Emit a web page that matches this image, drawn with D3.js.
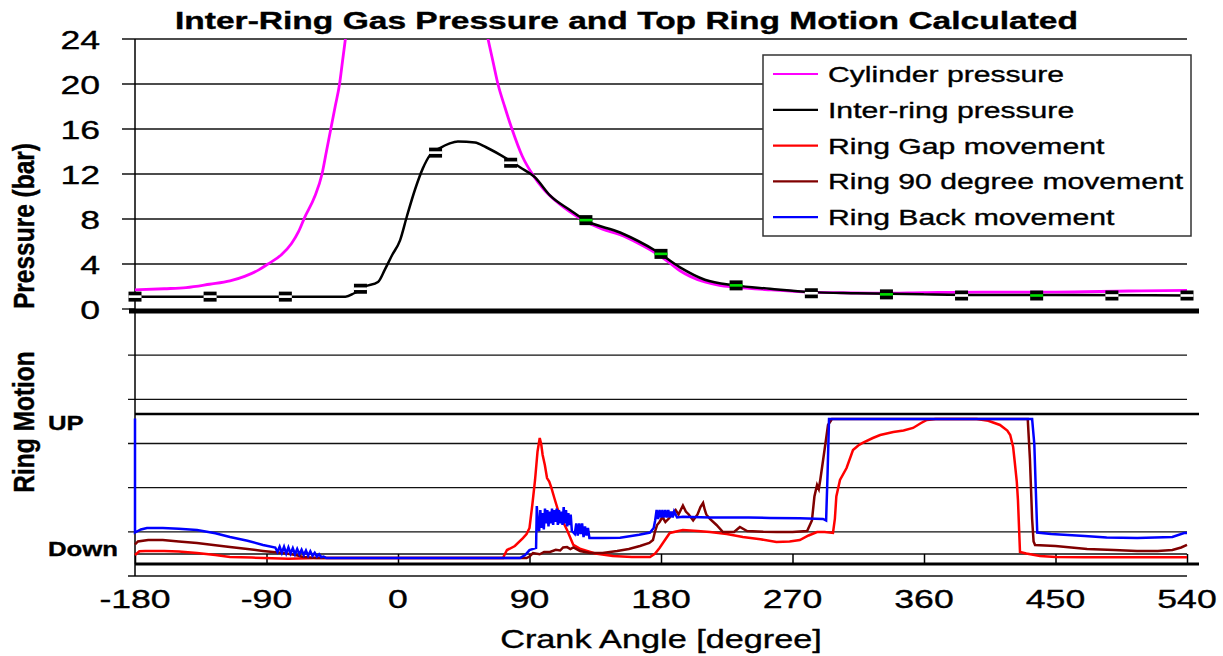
<!DOCTYPE html>
<html>
<head>
<meta charset="utf-8">
<script src="https://cdn.jsdelivr.net/npm/d3@7"></script>
<style>
body { margin: 0; background: #fff; }
text { font-family: "Liberation Sans", Arial, sans-serif; fill: #000; stroke: #000; stroke-width: 0.35px; }
</style>
</head>
<body>
<svg id="chart" width="1223" height="656"></svg>
<script>
// ---- data ----
var angleTicks = [-180, -90, 0, 90, 180, 270, 360, 450, 540];
var pressureTicks = [0, 4, 8, 12, 16, 20, 24];
var motionLabels = ["Down", "UP"];
var seriesNames = ["Cylinder pressure", "Inter-ring pressure", "Ring Gap movement",
                   "Ring 90 degree movement", "Ring Back movement"];

// [crank angle, bar]
var cylinderPressure = [[-180,1.7],[-160,1.8],[-145,1.9],[-129,2.2],[-115,2.5],[-105,2.9],[-95,3.5],
  [-89,4.0],[-80,4.8],[-73,5.8],[-68,6.9],[-64,8.1],[-57,10],[-52,12],[-49,14],[-46,16],[-43,18],
  [-40,20],[-38,22],[-36,24],[-30,30],[-20,42],[-10,54],[0,61],[10,63],[20,57],[30,46],[40,36],
  [50,30],[56,27],[61.6,24],[65,22],[68.4,20],[73,18],[78,16],[85,13.6],[92.4,11.9],[100,10.6],
  [108,9.6],[117,8.7],[128,7.8],[140,7.1],[152,6.6],[165,5.8],[176,5.0],[185,4.2],[193,3.4],
  [200,2.9],[210,2.4],[220,2.1],[230,1.95],[255,1.7],[282,1.5],[300,1.45],[330,1.4],[360,1.45],
  [400,1.5],[450,1.5],[500,1.6],[540,1.65]];

var interRingPressure = [[-180,1.1],[-130,1.1],[-80,1.1],[-36,1.1],[-30,1.4],[-22.6,2.0],[-13.7,2.4],
  [-9,3.5],[-4,4.8],[1.4,6.1],[6,8.2],[11.6,10.6],[17,12.5],[22,13.7],[28.7,14.3],[35,14.7],[41,14.9],
  [52.7,14.8],[60,14.4],[70,13.7],[83.5,12.6],[93.8,11.7],[104,10.1],[117.7,8.8],[128,7.9],[152,6.8],
  [176,5.2],[193,3.7],[210,2.6],[230.6,2.1],[254.6,1.8],[282,1.5],[314,1.4],[360,1.3],[400,1.25],
  [450,1.25],[540,1.2]];

var markerAngles = [-180,-128.6,-77.1,-25.7,25.7,77.1,128.6,180,231.4,282.9,334.3,385.7,437.1,488.6,540];
var markerPressure = [1.1,1.1,1.1,1.8,13.9,13.0,7.9,4.9,2.1,1.4,1.3,1.2,1.2,1.2,1.2];
var markerGreen = [6, 7, 8, 10, 12];

// [crank angle, motion] with 0 = Down, 100 = UP
var ringGap = [[-180,6],[-177,8.5],[-173,8.7],[-160,8.7],[-150,8.3],[-137.6,7.3],[-125,6],[-115,4.7],
  [-100,4.3],[-92,4],[-75,3.5],[-55,4],[72,4],[72.5,5.3],[74.6,9.3],[80,12],[85.5,17.3],[88,20],[90,24],
  [92,40],[93.8,56],[95.5,75],[97,84],[98,80],[99,72.7],[100.5,66],[102,57.3],[103.5,55],[105,50.7],
  [107,44],[109.5,36],[112,30],[115.7,22.7],[120,12.7],[125,10],[129.4,8.7],[135,7],[147,5.3],
  [160,4.7],[172.5,4.7],[176,7],[179,10.7],[182,15],[186,20.7],[195,22.7],[205,22],[213.5,21.3],
  [225,20],[236,18],[248,16.5],[259,14.7],[268,15],[275,16],[281,19],[286.8,21.3],[292,21.3],
  [297.7,20.7],[299,30],[300,45],[302.5,56],[307,64],[311.4,76],[315,79],[318,80.7],[325,84],[330,86],
  [339,88],[346,89],[352.5,90.7],[358,94],[362,96],[368,96.7],[396,96.7],[404,95.5],[412,92.7],
  [417,89],[419,86],[421,78],[422,69],[423.5,55],[424.3,42.7],[425.7,8],[430,7],[439.4,5.3],
  [450,4.6],[470,4.5],[540,4.5]];

var ring90 = [[-180,13],[-178,15],[-171,16],[-161,16],[-150,15],[-137.6,14],[-125,12.5],[-115,11.3],
  [-103,10],[-92.4,8.7],[-78.7,7.3],[-70,6],[-65,4.7],[-55.5,4],[88,4],[90,5],[92.4,7.3],[97,6.5],
  [100,8],[104,8],[108,9.5],[111,9],[113,11],[115.7,11.3],[118,10],[120,11],[124.6,8.7],[131.4,7.3],
  [140,7.3],[150,8.7],[158,10],[165.6,12],[172,14],[174.5,16],[176,22],[177.3,26],[179,28],[181,31.3],
  [183,28],[186,31],[188,34],[190,36],[192,33],[195,39],[197,35],[199,33],[202,29],[205,33],[207,38],
  [208.8,40.7],[210,36],[211,33],[213.5,30],[218,26],[222.4,21.3],[230,21.3],[234,24.7],[238.9,22],
  [250,21.5],[259.4,21.3],[270,21.3],[280,22],[283.3,29],[285,45],[286.8,52.7],[288,50],[289,56],
  [290.9,69],[292.5,80],[294.3,92.7],[297,96.7],[431,96.7],[432.5,70],[434,30],[435,15],[436,12.7],
  [450,12],[471.6,10],[490,9.3],[505.8,8.7],[520,8.7],[530,9.3],[536,11],[540,12.7]];

var ringBack = [[-180,97],[-180,21],[-176,23],[-171.8,24],[-161,24],[-150,23.5],[-137.6,22.7],
  [-125,20.5],[-115,18],[-103,15.5],[-92.4,12.7],[-84,11],[-82.5,8],[-81,11.5],[-79.5,7.5],[-78,11.5],
  [-76.5,7],[-75,11],[-73.5,7],[-72,10.5],[-70.5,6.5],[-69,10],[-67.5,6.5],[-66,9.5],[-64.5,6],[-63,9],
  [-61.5,5.5],[-60,8.5],[-58.5,5.5],[-57,7.5],[-55.5,5],[-54,6.5],[-52.5,4.5],[-51,5],[-49.5,4.2],
  [-48.6,4],[83.5,4],[87,6],[90,9.3],[94.5,10.7],[95,38.7],[95.8,25],[96.6,22],[97.4,36],[98.2,24],
  [99,34],[99.8,23],[100.6,37],[101.4,27],[102.2,36],[103,25],[103.8,35],[104.6,27],[105.4,37],
  [106.2,26],[107,36],[107.8,28],[108.6,37],[109.4,26],[110.2,36],[111,27],[111.8,35],[112.6,26],
  [113.4,38],[114.2,27],[115,36],[115.8,25],[116.6,34],[117.4,26],[118.2,33],[119,22],[120,21],
  [121,20],[122,27],[123,19],[124,27],[125,20],[126,27],[127,18],[128,25],[129,19],[130,24],[131,17.3],
  [140,17.3],[152,17.5],[165,19.5],[172.5,21],[175,24],[176,29],[177,36],[178,30],[179,36],[180,31],
  [181,36],[182,31],[183,36],[184,31],[185,36],[186,31],[187,35],[188,31],[189,35],[191,31],
  [195,31.5],[213.5,31],[240,31],[254.6,30.7],[275,30.5],[290.9,30],[293,29],[294,60],[295,96.7],
  [297,96.7],[434,96.7],[435.5,80],[436.5,50],[437.5,21],[447,20],[470,18.7],[485,17.6],[506,17.3],
  [530,18],[538,20.7],[540,20.7]];

// ---- layout ----
var SX = 1.37;   // the original picture is stretched sideways
var left = 135, right = 1187;

var svg = d3.select("#chart");

var x = d3.scaleLinear().domain([-180, 540]).range([left, right]);
var yP = d3.scaleLinear().domain([0, 24]).range([309, 39]);
var yM = d3.scaleLinear().domain([0, 100]).range([564, 414]);
var yG = d3.scaleLinear().domain([0, 6]).range([576, 311]);

function label(g, tx, ty, str, size, weight, anchor, sx) {
  return g.append("text")
    .attr("transform", "translate(" + tx + "," + ty + ") scale(" + sx + ",1)")
    .attr("text-anchor", anchor)
    .style("font-size", size + "px")
    .style("font-weight", weight)
    .text(str);
}

// pressure grid
svg.append("g").selectAll("line")
  .data(pressureTicks.filter(function(d) { return d > 0; }))
  .join("line")
    .attr("x1", 122).attr("x2", right)
    .attr("y1", function(d) { return yP(d); })
    .attr("y2", function(d) { return yP(d); })
    .attr("stroke", "#111").attr("stroke-width", 1.4);
svg.append("line").attr("x1", 122).attr("x2", left).attr("y1", yP(0)).attr("y2", yP(0))
  .attr("stroke", "#111").attr("stroke-width", 1.4);

// lower grid
svg.append("g").selectAll("line")
  .data(d3.range(0, 6))
  .join("line")
    .attr("x1", 128).attr("x2", right)
    .attr("y1", function(d) { return yG(d); })
    .attr("y2", function(d) { return yG(d); })
    .attr("stroke", "#111").attr("stroke-width", 1.4);

// divider, UP and Down lines
svg.append("line").attr("x1", 129).attr("x2", 1199).attr("y1", yG(6)).attr("y2", yG(6))
  .attr("stroke", "#000").attr("stroke-width", 5);
svg.append("line").attr("x1", left).attr("x2", 1199).attr("y1", yM(100)).attr("y2", yM(100))
  .attr("stroke", "#000").attr("stroke-width", 2.5);
svg.append("line").attr("x1", left).attr("x2", right).attr("y1", yM(6.7)).attr("y2", yM(6.7))
  .attr("stroke", "#111").attr("stroke-width", 1.4);
svg.append("line").attr("x1", left).attr("x2", 1199).attr("y1", yM(0)).attr("y2", yM(0))
  .attr("stroke", "#000").attr("stroke-width", 3);

// x ticks between the two bottom lines
var xAxis = svg.append("g")
  .attr("transform", "translate(0," + yM(6.7) + ")")
  .call(d3.axisBottom(x).tickValues(angleTicks).tickSize(yM(0) - yM(6.7)).tickFormat(""));
xAxis.select(".domain").remove();
xAxis.selectAll("line").attr("stroke", "#000").attr("stroke-width", 1.5);

// vertical axis
svg.append("line").attr("x1", left).attr("x2", left).attr("y1", yP(24)).attr("y2", yG(0))
  .attr("stroke", "#000").attr("stroke-width", 1.5);

// x tick labels
var xl = svg.append("g");
angleTicks.forEach(function(d) {
  label(xl, x(d), 608, String(d), 26, "normal", "middle", SX);
});
label(svg, (left + right) / 2, 648, "Crank Angle [degree]", 25, "normal", "middle", SX);

// pressure tick labels
var yl = svg.append("g");
pressureTicks.forEach(function(d) {
  label(yl, 100, yP(d) + 9.5, String(d), 26, "normal", "end", SX);
});

// motion labels
label(svg, 48, yM(0) - 8, motionLabels[0], 19.5, "bold", "start", 1.32);
label(svg, 48, yM(100) + 16, motionLabels[1], 19.5, "bold", "start", 1.32);

// axis titles
svg.append("text")
  .attr("transform", "translate(34,226) scale(1.2,1) rotate(-90)")
  .attr("text-anchor", "middle")
  .style("font-size", "24.5px").style("font-weight", "bold")
  .text("Pressure (bar)");
svg.append("text")
  .attr("transform", "translate(34,422) scale(1.2,1) rotate(-90)")
  .attr("text-anchor", "middle")
  .style("font-size", "24.5px").style("font-weight", "bold")
  .text("Ring Motion");

// title
svg.append("text")
  .attr("x", 626.5).attr("y", 29)
  .attr("text-anchor", "middle")
  .attr("textLength", 903).attr("lengthAdjust", "spacingAndGlyphs")
  .style("font-size", "23px").style("font-weight", "bold")
  .text("Inter-Ring Gas Pressure and Top Ring Motion Calculated");

// ---- pressure lines ----
svg.append("clipPath").attr("id", "topclip")
  .append("rect").attr("x", left).attr("y", yP(24)).attr("width", right - left).attr("height", yG(6) - yP(24));

var pLine = d3.line()
  .x(function(d) { return x(d[0]); })
  .y(function(d) { return yP(d[1]); })
  .curve(d3.curveMonotoneX);

var pressurePanel = svg.append("g").attr("clip-path", "url(#topclip)");
pressurePanel.append("path").datum(cylinderPressure).attr("d", pLine)
  .attr("fill", "none").attr("stroke", "#ff00ff").attr("stroke-width", 2.8);
pressurePanel.append("path").datum(interRingPressure).attr("d", pLine)
  .attr("fill", "none").attr("stroke", "#000").attr("stroke-width", 2.5);

var markers = svg.append("g").selectAll("g")
  .data(markerAngles)
  .join("g")
    .attr("transform", function(d, i) { return "translate(" + x(d) + "," + yP(markerPressure[i]) + ")"; });
markers.append("rect").attr("x", -6.5).attr("y", -5).attr("width", 13).attr("height", 10).attr("fill", "#000");
markers.append("rect").attr("x", -6.5).attr("y", -1.3).attr("width", 13).attr("height", 2.6)
  .attr("fill", function(d, i) { return markerGreen.indexOf(i) >= 0 ? "#00e000" : "#fff"; });

// ---- ring motion lines ----
var mLine = d3.line()
  .x(function(d) { return x(d[0]); })
  .y(function(d) { return yM(d[1]); });

var motion = svg.append("g").attr("fill", "none").attr("stroke-width", 2.5);
motion.append("path").datum(ringGap).attr("d", mLine).attr("stroke", "#ff0000");
motion.append("path").datum(ring90).attr("d", mLine).attr("stroke", "#800000");
motion.append("path").datum(ringBack).attr("d", mLine).attr("stroke", "#0000ff");

// ---- legend ----
var legendColors = ["#ff00ff", "#000000", "#ff0000", "#800000", "#0000ff"];
var legend = svg.append("g");
legend.append("rect").attr("x", 763).attr("y", 55).attr("width", 428).attr("height", 181)
  .attr("fill", "#fff").attr("stroke", "#333").attr("stroke-width", 1.5);
seriesNames.forEach(function(name, i) {
  var ly = 74 + i * 35.8;
  legend.append("line").attr("x1", 773).attr("x2", 818).attr("y1", ly).attr("y2", ly)
    .attr("stroke", legendColors[i]).attr("stroke-width", 2.2);
  label(legend, 828, ly + 8, name, 22, "normal", "start", SX);
});
</script>
</body>
</html>
